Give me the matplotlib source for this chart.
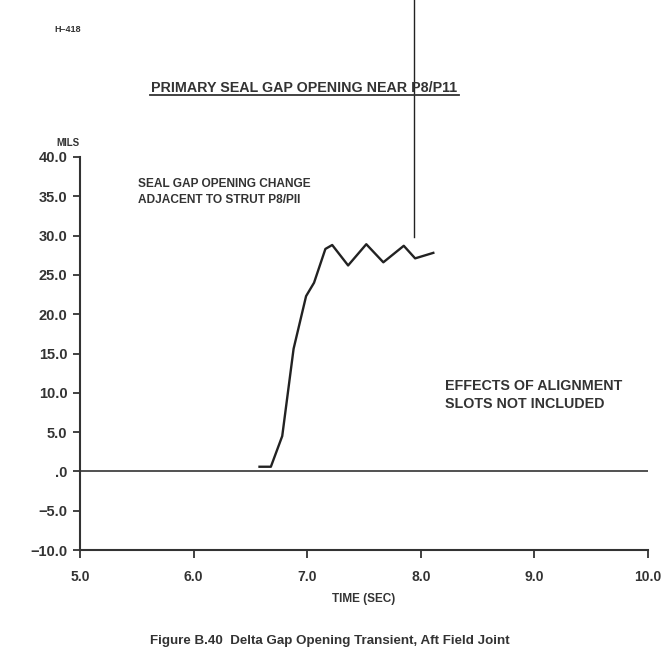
import numpy as np
import matplotlib.pyplot as plt

plt.rcParams['font.family'] = ['Liberation Sans', 'DejaVu Sans']
plt.rcParams['font.weight'] = 'bold'

# seal gap opening transient
time_sec = [6.58, 6.68, 6.78, 6.88, 6.99, 7.06, 7.16, 7.22, 7.36, 7.52, 7.67, 7.85, 7.95, 8.11]
gap_mils = [0.6, 0.6, 4.5, 15.6, 22.3, 24.0, 28.3, 28.8, 26.2, 28.9, 26.6, 28.7, 27.1, 27.8]

x_ticks = [5.0, 6.0, 7.0, 8.0, 9.0, 10.0]
x_labels = ['5.0', '6.0', '7.0', '8.0', '9.0', '10.0']
y_ticks = [-10, -5, 0, 5, 10, 15, 20, 25, 30, 35, 40]
y_labels = ['\u221210.0', '\u22125.0', '.0', '5.0', '10.0', '15.0', '20.0',
            '25.0', '30.0', '35.0', '40.0']

marker_t = 7.94
marker_top = 29.8

fig = plt.figure(figsize=(6.67, 6.58), dpi=100)
ax = fig.add_axes([0.12, 0.164, 0.8515, 0.5975])

ax.plot(time_sec, gap_mils, color='#222222', lw=1.7)
ax.axhline(0, color='#333333', lw=1.2)
ax.plot([marker_t, marker_t], [marker_top, 60], color='#222222', lw=1.0, clip_on=False)

ax.set_xlim(5.0, 10.0)
ax.set_ylim(-10, 40)
ax.set_xticks(x_ticks)
ax.set_xticklabels(x_labels, fontsize=10, fontweight='bold', color='#333333')
ax.set_yticks(y_ticks)
ax.set_yticklabels(y_labels, fontsize=10.5, fontweight='bold', color='#333333')
ax.tick_params(axis='x', length=6, width=1.3, pad=8, colors='#333333')
ax.tick_params(axis='y', length=5, width=1.3, pad=4, colors='#333333')
for s in ['top', 'right']:
    ax.spines[s].set_visible(False)
for s in ['left', 'bottom']:
    ax.spines[s].set_linewidth(1.5)
    ax.spines[s].set_color('#333333')

ax.set_xlabel('TIME (SEC)', fontsize=8.5, fontweight='bold', color='#333333', labelpad=7)

ax.text(5.51, 37.3, 'SEAL GAP OPENING CHANGE\nADJACENT TO STRUT P8/PII', fontsize=8.6,
        fontweight='bold', color='#333333', va='top', linespacing=1.45)
ax.text(8.21, 11.7, 'EFFECTS OF ALIGNMENT\nSLOTS NOT INCLUDED', fontsize=10.3,
        fontweight='bold', color='#333333', va='top', linespacing=1.3)

fig.text(0.082, 0.951, 'H\u2013418', fontsize=6.5, fontweight='bold', color='#333333')
fig.text(0.084, 0.778, 'MILS', fontsize=7, fontweight='bold', color='#333333')
fig.text(0.456, 0.86, 'PRIMARY SEAL GAP OPENING NEAR P8/P11', fontsize=10.3,
         fontweight='bold', color='#333333', ha='center')
fig.add_artist(plt.Line2D([0.225, 0.688], [0.856, 0.856], color='#333333', lw=1.3))
fig.text(0.495, 0.022, 'Figure B.40  Delta Gap Opening Transient, Aft Field Joint',
         fontsize=9.6, fontweight='bold', color='#333333', ha='center')

fig.savefig('out.png', dpi=100)
